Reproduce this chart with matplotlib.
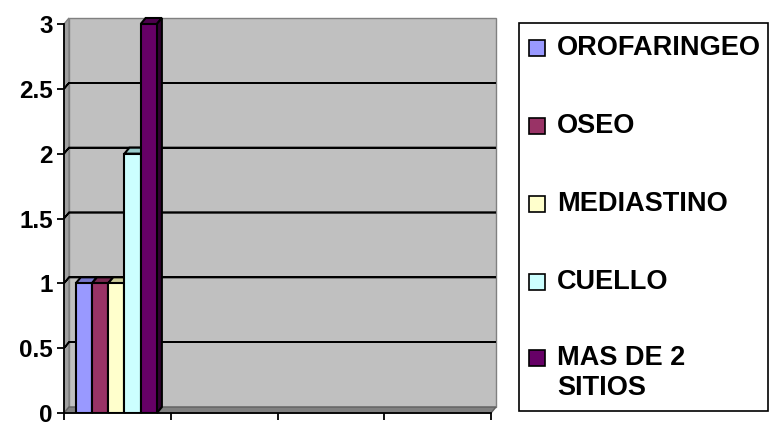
import matplotlib
matplotlib.use("Agg")
import matplotlib.pyplot as plt
from matplotlib.patches import Polygon, Rectangle
from matplotlib.transforms import Affine2D

labels = ["OROFARINGEO", "OSEO", "MEDIASTINO", "CUELLO", "MAS DE 2\nSITIOS"]
values = [1, 1, 1, 2, 3]
colors = ["#9999FF", "#993366", "#FFFFCC", "#CCFFFF", "#660066"]
tops = ["#7777CC", "#772850", "#CCCC99", "#99CCCC", "#4D004D"]
sides = ["#5555AA", "#551B3A", "#999977", "#88AAAA", "#330033"]
yticks = [0, 0.5, 1, 1.5, 2, 2.5, 3]
ytick_labels = ["0", "0.5", "1", "1.5", "2", "2.5", "3"]
n_cats = 4

plt.rcParams["font.family"] = ["Liberation Sans", "DejaVu Sans"]
plt.rcParams["font.weight"] = "bold"

fig = plt.figure(figsize=(7.7, 4.24), dpi=100)
ax = fig.add_axes([64 / 770, 11 / 424, 427 / 770, 389 / 424])
ax.set_xlim(0, n_cats)
ax.set_ylim(0, 3)
ax.patch.set_visible(False)

# depth of the 3d effect in pixels
dx, dy = 5, 6
front = ax.transData
back = ax.transData + Affine2D().translate(dx, dy)


def poly(pts, **kw):
    p = Polygon(pts, closed=True, transform=None, clip_on=False, **kw)
    ax.add_artist(p)
    return p


def f(x, y):
    return front.transform((x, y))


def b(x, y):
    return back.transform((x, y))


# walls
poly([b(0, 0), b(n_cats, 0), b(n_cats, 3), b(0, 3)], facecolor="#C0C0C0",
     edgecolor="#808080", lw=1, zorder=0)
poly([f(0, 0), b(0, 0), b(0, 3), f(0, 3)], facecolor="#A0A0A0",
     edgecolor="#808080", lw=1, zorder=0)
poly([f(0, 0), f(n_cats, 0), b(n_cats, 0), b(0, 0)], facecolor="#808080",
     edgecolor="#606060", lw=1, zorder=0.5)

for yv in yticks[1:-1]:
    poly([f(0, yv), b(0, yv), b(n_cats, yv), b(0, yv)], fill=False,
         edgecolor="black", lw=1.2, zorder=0.6)

# bars
w = 0.152
x0 = 0.49 - 2 * w
xs = [x0 + i * w for i in range(len(values))]
bars = ax.bar(xs, values, width=w, color=colors, edgecolor="black",
              linewidth=1.5, zorder=2)
for i, (xc, h) in enumerate(zip(xs, values)):
    l, r = xc - w / 2, xc + w / 2
    poly([f(l, h), f(r, h), b(r, h), b(l, h)], facecolor=tops[i],
         edgecolor="black", lw=1.5, zorder=1.5)
    poly([f(r, 0), b(r, 0), b(r, h), f(r, h)], facecolor=sides[i],
         edgecolor="black", lw=1.5, zorder=1.5)

for s in ["top", "right"]:
    ax.spines[s].set_visible(False)
for s in ["left", "bottom"]:
    ax.spines[s].set_linewidth(1.3)
    ax.spines[s].set_zorder(3)

ax.set_yticks(yticks)
ax.set_yticklabels(ytick_labels, fontsize=17.5, fontweight="bold")
ax.set_xticks(range(n_cats + 1))
ax.set_xticklabels([])
ax.tick_params(axis="both", direction="out", length=5, width=1.3, pad=3)

# legend box
fig.add_artist(Rectangle((519 / 770, 13 / 424), 249 / 770, 388 / 424,
                         transform=fig.transFigure, fill=False,
                         edgecolor="black", lw=1.2))
ys = [48, 126, 204, 282, 358]
for lab, col, yy in zip(labels, colors, ys):
    fig.add_artist(Rectangle((529 / 770, 1 - (yy + 8) / 424), 16 / 770, 16 / 424,
                             transform=fig.transFigure, facecolor=col,
                             edgecolor="black", lw=1.2))
    fig.text(557 / 770, 1 - (yy - 13) / 424, lab, fontsize=19.5,
             fontweight="bold", va="top", ha="left", linespacing=1.2)

fig.savefig("out.png", dpi=100)
